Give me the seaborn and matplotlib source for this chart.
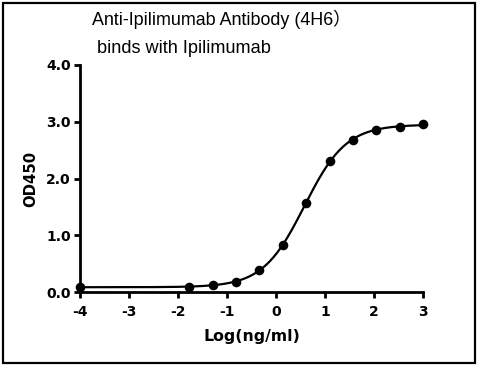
import numpy as np
import pandas as pd
import seaborn as sns
import matplotlib
matplotlib.use("Agg")
import matplotlib.pyplot as plt
from matplotlib.patches import Rectangle

# Data
log_conc = [-4.0, -1.771, -1.294, -0.817, -0.340, 0.137, 0.614, 1.092, 1.569, 2.046, 2.523, 3.0]
od450 = [0.09, 0.09, 0.12, 0.18, 0.39, 0.83, 1.56, 2.31, 2.68, 2.85, 2.91, 2.96]
title_lines = ["Anti-Ipilimumab Antibody (4H6\uff09", "binds with Ipilimumab"]
x_ticks = [-4, -3, -2, -1, 0, 1, 2, 3]
y_ticks = [0.0, 1.0, 2.0, 3.0, 4.0]

x = np.array(log_conc)
y = np.array(od450)

# Four-parameter logistic fit (Levenberg-Marquardt style) from the data
def f4(p, xx):
    b, t, c, h = p
    return b + (t - b) / (1.0 + 10 ** ((c - xx) * h))

p = np.array([y.min(), y.max(), 0.5, 1.0])
lam = 1e-3
for _ in range(200):
    r = y - f4(p, x)
    J = np.zeros((len(x), 4))
    eps = 1e-6
    for j in range(4):
        dp = np.zeros(4); dp[j] = eps
        J[:, j] = (f4(p + dp, x) - f4(p - dp, x)) / (2 * eps)
    A = J.T @ J + lam * np.eye(4)
    step = np.linalg.solve(A, J.T @ r)
    pn = p + step
    if np.sum((y - f4(pn, x)) ** 2) < np.sum(r ** 2):
        p = pn; lam *= 0.5
    else:
        lam *= 5

xf = np.linspace(-4, 3, 400)
fit = pd.DataFrame({"x": xf, "y": f4(p, xf)})
pts = pd.DataFrame({"x": x, "y": y})

sns.set_style("ticks")
plt.rcParams["font.family"] = ["DejaVu Sans"]
plt.rcParams["text.color"] = "black"
plt.rcParams["axes.labelcolor"] = "black"
plt.rcParams["xtick.color"] = "black"
plt.rcParams["ytick.color"] = "black"

fig = plt.figure(figsize=(4.81, 3.67), dpi=100)
ax = fig.add_axes([80 / 481, 1 - 292 / 367, (423 - 80) / 481, (292 - 65) / 367])

sns.lineplot(data=fit, x="x", y="y", ax=ax, color="black", linewidth=1.6)
sns.scatterplot(data=pts, x="x", y="y", ax=ax, color="black", s=48,
                edgecolor="black", linewidth=0, zorder=5, clip_on=False)

ax.set_xlim(-4, 3)
ax.set_ylim(0, 4)
ax.set_xticks(x_ticks)
ax.set_yticks(y_ticks)
ax.set_xticklabels([str(v) for v in x_ticks], fontweight="bold", fontsize=10, color="black")
ax.set_yticklabels([f"{v:.1f}" for v in y_ticks], fontweight="bold", fontsize=10, color="black")
ax.set_xlabel("Log(ng/ml)", fontweight="bold", fontsize=11.3, color="black")
ax.set_ylabel("OD450", fontweight="bold", fontsize=10.7, color="black")
ax.yaxis.set_label_coords(-0.122, 0.5)
ax.xaxis.set_label_coords(0.5, -0.165)
for s in ["top", "right"]:
    ax.spines[s].set_visible(False)
for s in ["left", "bottom"]:
    ax.spines[s].set_linewidth(2)
    ax.spines[s].set_color("black")
ax.tick_params(axis="both", width=2, length=4.5, direction="out", colors="black")
ax.tick_params(axis="x", pad=5)
ax.tick_params(axis="y", pad=2)

tfam = ["Liberation Sans", "Noto Sans CJK SC"]
fig.text(92 / 481, 1 - 25 / 367, title_lines[0], ha="left", va="baseline",
         fontsize=12.9, family=tfam, color="black")
fig.text(97 / 481, 1 - 53 / 367, title_lines[1], ha="left", va="baseline",
         fontsize=13.1, family=tfam, color="black")

fig.patches.append(Rectangle((3 / 481, 4 / 367), 472 / 481, 360 / 367,
                             transform=fig.transFigure, fill=False,
                             edgecolor="black", linewidth=1.6))

fig.savefig("out.png", dpi=100)
